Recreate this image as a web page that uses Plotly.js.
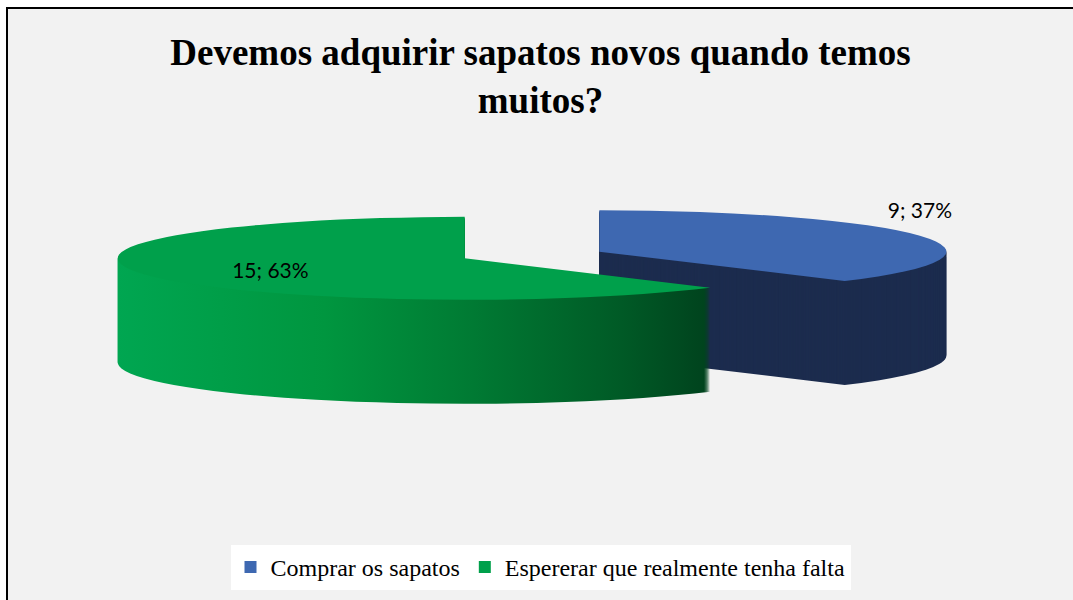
<!DOCTYPE html>
<html><head><meta charset="utf-8">
<script src="https://cdn.plot.ly/plotly-3.0.1.min.js"></script>
<style>
html,body{margin:0;padding:0;background:#fff;width:1073px;height:600px;overflow:hidden}
#frame{position:absolute;left:6px;top:7px;width:1067px;height:593px;border-top:2px solid #000;border-left:2px solid #000;box-sizing:border-box;background:#f2f2f2}
#chart{width:1065px;height:591px}
</style></head><body><div id="frame"><div id="chart"></div></div>
<script>
const chartTitle = 'Devemos adquirir sapatos novos quando temos<br>muitos?';
const categories = ['Comprar os sapatos', 'Espererar que realmente tenha falta'];
const values = [9, 15];
const valueLabels = ['9; 37%', '15; 63%'];
const topColors = ['#3e68b1', '#00a04b'];
const sideColors = ['#1c2c4e', '#00873f'];

// 3D look: squashed ellipse with stacked layers
const PULL = 0.21;
const DEPTH = 104, STEP = 1;
const Tx = 532 - 8, Ty = 255 - 9;
const RX = 347, RY = 41.5;
const INSIDE_NUDGE = [-34, 3];

const traces = [];
for (let d = DEPTH; d > 0; d -= STEP) {
  traces.push({
    type: 'pie', labels: categories, values: values, sort: false,
    direction: 'clockwise', rotation: 0, pull: PULL,
    marker: {colors: sideColors, line: {width: 0}},
    textinfo: 'none', hoverinfo: 'skip', showlegend: false,
    domain: {x: [0, 1], y: [0, 1]}, meta: {depth: d}
  });
}
traces.push({
  type: 'pie', labels: categories, values: values, sort: false,
  direction: 'clockwise', rotation: 0, pull: PULL,
  marker: {colors: topColors, line: {width: 0}},
  text: valueLabels, texttemplate: '%{text}', textinfo: 'text',
  textposition: ['outside', 'inside'], insidetextorientation: 'horizontal',
  textfont: {family: 'Lato', size: 21, color: '#000'},
  insidetextfont: {family: 'Lato', size: 21, color: '#000'},
  outsidetextfont: {family: 'Lato', size: 21, color: '#000'},
  hoverinfo: 'skip', showlegend: true,
  domain: {x: [0, 1], y: [0, 1]}, meta: {depth: 0}
});

const layout = {
  width: 1065, height: 591, margin: {l: 0, r: 0, t: 0, b: 0},
  paper_bgcolor: '#f2f2f2', plot_bgcolor: '#f2f2f2',
  title: {text: chartTitle, font: {family: 'Liberation Serif', size: 37, color: '#000', weight: 'bold'},
    x: 0.5, xanchor: 'center', xref: 'paper', yref: 'container', y: 0.905, yanchor: 'top'},
  showlegend: true,
  legend: {orientation: 'h', x: 0.5, xanchor: 'center', xref: 'paper', yref: 'container', y: 0.055, yanchor: 'middle',
    bgcolor: '#ffffff', font: {family: 'Liberation Serif', size: 24, color: '#000'}}
};

const gd = document.getElementById('chart');
Plotly.newPlot(gd, traces, layout, {staticPlot: true}).then(() => {
  const NS = 'http://www.w3.org/2000/svg';
  const svg = gd.querySelector('svg.main-svg');
  let defs = svg.querySelector('defs');
  if (!defs) { defs = document.createElementNS(NS, 'defs'); svg.insertBefore(defs, svg.firstChild); }
  const lg = document.createElementNS(NS, 'linearGradient');
  lg.setAttribute('id', 'gside'); lg.setAttribute('x1', '0'); lg.setAttribute('y1', '0');
  lg.setAttribute('x2', '1'); lg.setAttribute('y2', '0');
  [[0, '#00a651'], [0.35, '#00963f'], [0.6, '#007a33'], [0.85, '#005a26'], [1, '#00421d']].forEach(s => {
    const st = document.createElementNS(NS, 'stop');
    st.setAttribute('offset', s[0]); st.setAttribute('stop-color', s[1]);
    lg.appendChild(st);
  });
  defs.appendChild(lg);

  const groups = gd.querySelectorAll('.pielayer g.trace');
  groups.forEach((g, i) => {
    const cd = gd.calcdata[i];
    const cd0 = cd[0];
    const cx = cd0.cx, cy = cd0.cy, r = cd0.r;
    const sx = RX / r, sy = RY / r;
    const d = traces[i].meta.depth;
    const map = (x, y) => [Tx + (x - cx) * sx, Ty + d + (y - cy) * sy];
    const tf = `translate(${Tx},${Ty + d}) scale(${sx},${sy}) translate(${-cx},${-cy})`;
    g.querySelectorAll('g.slice').forEach((s, j) => {
      const p = s.querySelector('path.surface');
      if (p) {
        p.setAttribute('transform', tf);
        if (d > 0 && j === 1) p.style.fill = 'url(#gside)';
      }
      s.querySelectorAll('path.textline').forEach(l => l.style.display = 'none');
      const t = s.querySelector('g.slicetext');
      if (t) {
        const bb = t.getBBox();
        const tcx = bb.x + bb.width / 2, tcy = bb.y + bb.height / 2;
        let m;
        const pt = cd[j];
        if (j === 0) {
          m = map(pt.cxFinal + pt.pxmid[0], pt.cyFinal + pt.pxmid[1]);
          m[1] -= 26;
        } else {
          m = map(tcx, tcy);
          m[0] += INSIDE_NUDGE[0]; m[1] += INSIDE_NUDGE[1];
        }
        const prev = t.getAttribute('transform') || '';
        t.setAttribute('transform', `translate(${m[0] - tcx},${m[1] - tcy}) ` + prev);
      }
    });
  });
});
</script></body></html>
